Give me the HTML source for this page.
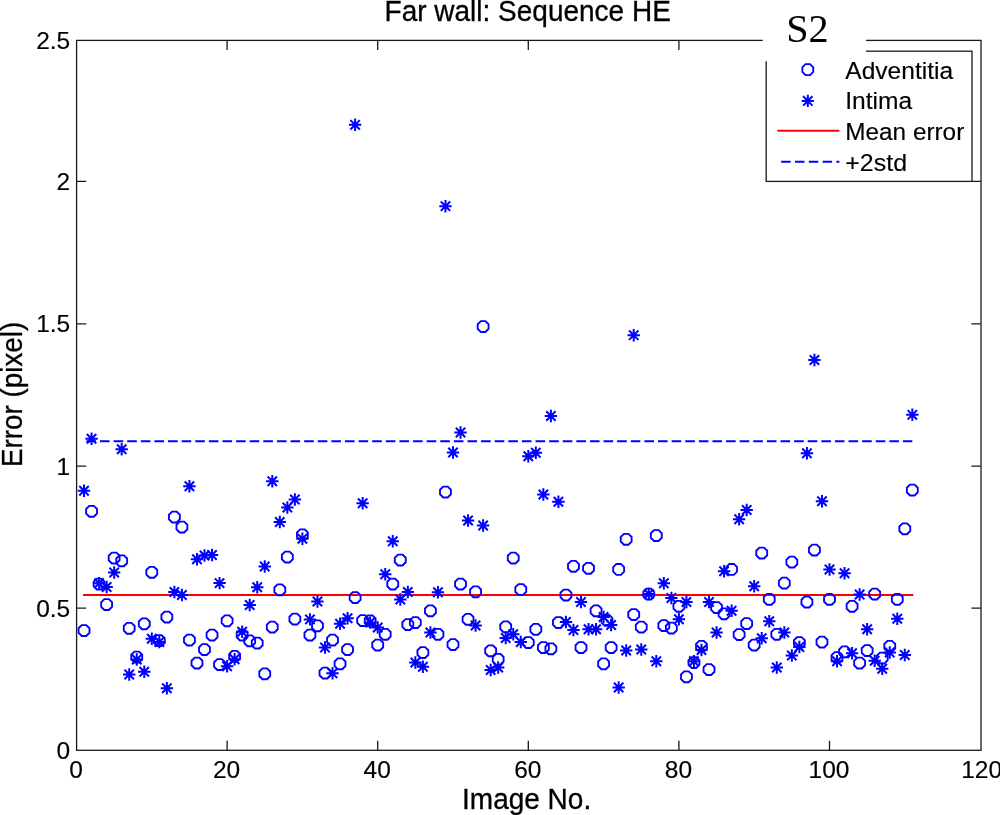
<!DOCTYPE html>
<html><head><meta charset="utf-8"><title>Far wall: Sequence HE</title>
<style>html,body{margin:0;padding:0;background:#fff;overflow:hidden}svg{display:block}</style></head><body>
<svg width="1000" height="815" viewBox="0 0 1000 815">
<rect width="1000" height="815" fill="#fff"/>
<defs>
<polygon id="c" points="5.45,2.26 2.26,5.45 -2.26,5.45 -5.45,2.26 -5.45,-2.26 -2.26,-5.45 2.26,-5.45 5.45,-2.26" fill="none" stroke="#0000ff" stroke-width="1.85"/>
<path id="s" d="M-6.2,0H6.2 M0,-6.2V6.2 M-4.7,-4.7L4.7,4.7 M-4.7,4.7L4.7,-4.7" fill="none" stroke="#0000ff" stroke-width="2"/>
</defs>
<g stroke="#1a1a1a" stroke-width="1.3" fill="none">
<rect x="76.6" y="40.4" width="904.4" height="709.9"/>
<path d="M227.10,750.3v-9.6 M227.10,40.4v9.6"/>
<path d="M377.70,750.3v-9.6 M377.70,40.4v9.6"/>
<path d="M528.30,750.3v-9.6 M528.30,40.4v9.6"/>
<path d="M678.90,750.3v-9.6 M678.90,40.4v9.6"/>
<path d="M829.50,750.3v-9.6 M829.50,40.4v9.6"/>
<path d="M76.6,608.10h9.6 M981,608.10h-9.6"/>
<path d="M76.6,466.10h9.6 M981,466.10h-9.6"/>
<path d="M76.6,323.90h9.6 M981,323.90h-9.6"/>
<path d="M76.6,181.40h9.6 M981,181.40h-9.6"/>
</g>
<g font-family="Liberation Sans, Arial, Helvetica, sans-serif" font-size="24.5" fill="#000" stroke="#000" stroke-width="0.15">
<text transform="translate(76.00,777.6)" text-anchor="middle">0</text>
<text transform="translate(226.60,777.6)" text-anchor="middle">20</text>
<text transform="translate(377.20,777.6)" text-anchor="middle">40</text>
<text transform="translate(527.80,777.6)" text-anchor="middle">60</text>
<text transform="translate(678.40,777.6)" text-anchor="middle">80</text>
<text transform="translate(829.00,777.6)" text-anchor="middle">100</text>
<text transform="translate(981.60,777.6)" text-anchor="middle">120</text>
<text transform="translate(70.2,758.70)" text-anchor="end">0</text>
<text transform="translate(70.2,616.50)" text-anchor="end">0.5</text>
<text transform="translate(70.2,474.50)" text-anchor="end">1</text>
<text transform="translate(70.2,332.30)" text-anchor="end">1.5</text>
<text transform="translate(70.2,189.80)" text-anchor="end">2</text>
<text transform="translate(70.2,48.80)" text-anchor="end">2.5</text>
</g>
<text transform="translate(527.7,20.8) scale(1,1.035)" text-anchor="middle" font-family="Liberation Sans, Arial, Helvetica, sans-serif" font-size="28" fill="#000" stroke="#000" stroke-width="0.3">Far wall: Sequence HE</text>
<text transform="translate(526.6,808.6) scale(1,1.035)" text-anchor="middle" font-family="Liberation Sans, Arial, Helvetica, sans-serif" font-size="28" fill="#000" stroke="#000" stroke-width="0.3">Image No.</text>
<text transform="translate(21.8,394.4) rotate(-90) scale(1,1.06)" text-anchor="middle" font-family="Liberation Sans, Arial, Helvetica, sans-serif" font-size="27.8" fill="#000" stroke="#000" stroke-width="0.3">Error (pixel)</text>
<line x1="84.03" y1="595" x2="912.33" y2="595" stroke="#ff0000" stroke-width="2" stroke-linecap="square"/>
<line x1="84.03" y1="441.2" x2="912.33" y2="441.2" stroke="#0000ff" stroke-width="2" stroke-dasharray="9.6 4.01" stroke-dashoffset="11.25"/>
<g>
<use href="#c" x="84.03" y="630.50"/>
<use href="#c" x="91.56" y="511.25"/>
<use href="#c" x="99.09" y="584.00"/>
<use href="#c" x="106.62" y="604.50"/>
<use href="#c" x="114.15" y="558.00"/>
<use href="#c" x="121.68" y="560.75"/>
<use href="#c" x="129.21" y="628.25"/>
<use href="#c" x="136.74" y="657.00"/>
<use href="#c" x="144.27" y="623.75"/>
<use href="#c" x="151.80" y="572.25"/>
<use href="#c" x="159.33" y="640.50"/>
<use href="#c" x="166.86" y="617.00"/>
<use href="#c" x="174.39" y="517.00"/>
<use href="#c" x="181.92" y="527.00"/>
<use href="#c" x="189.45" y="640.00"/>
<use href="#c" x="196.98" y="663.00"/>
<use href="#c" x="204.51" y="649.50"/>
<use href="#c" x="212.04" y="635.00"/>
<use href="#c" x="219.57" y="664.50"/>
<use href="#c" x="227.10" y="620.75"/>
<use href="#c" x="234.63" y="656.25"/>
<use href="#c" x="242.16" y="635.00"/>
<use href="#c" x="249.69" y="640.75"/>
<use href="#c" x="257.22" y="643.00"/>
<use href="#c" x="264.75" y="673.75"/>
<use href="#c" x="272.28" y="627.00"/>
<use href="#c" x="279.81" y="589.75"/>
<use href="#c" x="287.34" y="557.00"/>
<use href="#c" x="294.87" y="619.00"/>
<use href="#c" x="302.40" y="534.75"/>
<use href="#c" x="309.93" y="635.00"/>
<use href="#c" x="317.46" y="625.75"/>
<use href="#c" x="324.99" y="673.00"/>
<use href="#c" x="332.52" y="640.00"/>
<use href="#c" x="340.05" y="663.75"/>
<use href="#c" x="347.58" y="649.50"/>
<use href="#c" x="355.11" y="597.50"/>
<use href="#c" x="362.64" y="620.50"/>
<use href="#c" x="370.17" y="620.75"/>
<use href="#c" x="377.70" y="645.00"/>
<use href="#c" x="385.23" y="634.25"/>
<use href="#c" x="392.76" y="584.00"/>
<use href="#c" x="400.29" y="560.00"/>
<use href="#c" x="407.82" y="624.50"/>
<use href="#c" x="415.35" y="622.50"/>
<use href="#c" x="422.88" y="652.50"/>
<use href="#c" x="430.41" y="610.75"/>
<use href="#c" x="437.94" y="634.25"/>
<use href="#c" x="445.47" y="492.00"/>
<use href="#c" x="453.00" y="644.50"/>
<use href="#c" x="460.53" y="584.00"/>
<use href="#c" x="468.06" y="619.25"/>
<use href="#c" x="475.59" y="591.75"/>
<use href="#c" x="483.12" y="326.50"/>
<use href="#c" x="490.65" y="650.75"/>
<use href="#c" x="498.18" y="659.25"/>
<use href="#c" x="505.71" y="626.75"/>
<use href="#c" x="513.24" y="558.00"/>
<use href="#c" x="520.77" y="589.50"/>
<use href="#c" x="528.30" y="642.50"/>
<use href="#c" x="535.83" y="629.25"/>
<use href="#c" x="543.36" y="647.50"/>
<use href="#c" x="550.89" y="648.75"/>
<use href="#c" x="558.42" y="622.50"/>
<use href="#c" x="565.95" y="595.00"/>
<use href="#c" x="573.48" y="566.25"/>
<use href="#c" x="581.01" y="647.50"/>
<use href="#c" x="588.54" y="568.25"/>
<use href="#c" x="596.07" y="610.75"/>
<use href="#c" x="603.60" y="663.75"/>
<use href="#c" x="611.13" y="647.50"/>
<use href="#c" x="618.66" y="569.40"/>
<use href="#c" x="626.19" y="539.25"/>
<use href="#c" x="633.72" y="614.50"/>
<use href="#c" x="641.25" y="627.00"/>
<use href="#c" x="648.78" y="594.00"/>
<use href="#c" x="656.31" y="535.50"/>
<use href="#c" x="663.84" y="625.50"/>
<use href="#c" x="671.37" y="628.00"/>
<use href="#c" x="678.90" y="606.25"/>
<use href="#c" x="686.43" y="676.75"/>
<use href="#c" x="693.96" y="662.50"/>
<use href="#c" x="701.49" y="646.25"/>
<use href="#c" x="709.02" y="669.50"/>
<use href="#c" x="716.55" y="607.50"/>
<use href="#c" x="724.08" y="613.75"/>
<use href="#c" x="731.61" y="569.40"/>
<use href="#c" x="739.14" y="634.50"/>
<use href="#c" x="746.67" y="623.50"/>
<use href="#c" x="754.20" y="645.00"/>
<use href="#c" x="761.73" y="553.00"/>
<use href="#c" x="769.26" y="599.25"/>
<use href="#c" x="776.79" y="634.25"/>
<use href="#c" x="784.32" y="583.10"/>
<use href="#c" x="791.85" y="562.00"/>
<use href="#c" x="799.38" y="642.50"/>
<use href="#c" x="806.91" y="602.00"/>
<use href="#c" x="814.44" y="550.00"/>
<use href="#c" x="821.97" y="642.00"/>
<use href="#c" x="829.50" y="599.25"/>
<use href="#c" x="837.03" y="657.50"/>
<use href="#c" x="844.56" y="651.75"/>
<use href="#c" x="852.09" y="606.25"/>
<use href="#c" x="859.62" y="663.00"/>
<use href="#c" x="867.15" y="650.50"/>
<use href="#c" x="874.68" y="594.00"/>
<use href="#c" x="882.21" y="658.00"/>
<use href="#c" x="889.74" y="646.25"/>
<use href="#c" x="897.27" y="599.25"/>
<use href="#c" x="904.80" y="528.75"/>
<use href="#c" x="912.33" y="490.00"/>
<use href="#c" x="607.0" y="620.4"/>
<use href="#s" x="84.03" y="490.75"/>
<use href="#s" x="91.56" y="438.75"/>
<use href="#s" x="99.09" y="583.25"/>
<use href="#s" x="106.62" y="587.00"/>
<use href="#s" x="114.15" y="572.50"/>
<use href="#s" x="121.68" y="449.25"/>
<use href="#s" x="129.21" y="674.50"/>
<use href="#s" x="136.74" y="659.50"/>
<use href="#s" x="144.27" y="671.75"/>
<use href="#s" x="151.80" y="638.75"/>
<use href="#s" x="159.33" y="642.00"/>
<use href="#s" x="166.86" y="688.25"/>
<use href="#s" x="174.39" y="592.00"/>
<use href="#s" x="181.92" y="595.00"/>
<use href="#s" x="189.45" y="486.25"/>
<use href="#s" x="196.98" y="559.25"/>
<use href="#s" x="204.51" y="555.50"/>
<use href="#s" x="212.04" y="555.00"/>
<use href="#s" x="219.57" y="583.10"/>
<use href="#s" x="227.10" y="666.25"/>
<use href="#s" x="234.63" y="659.25"/>
<use href="#s" x="242.16" y="631.75"/>
<use href="#s" x="249.69" y="605.00"/>
<use href="#s" x="257.22" y="587.25"/>
<use href="#s" x="264.75" y="566.50"/>
<use href="#s" x="272.28" y="481.25"/>
<use href="#s" x="279.81" y="522.00"/>
<use href="#s" x="287.34" y="507.50"/>
<use href="#s" x="294.87" y="499.50"/>
<use href="#s" x="302.40" y="538.75"/>
<use href="#s" x="309.93" y="619.40"/>
<use href="#s" x="317.46" y="601.50"/>
<use href="#s" x="324.99" y="647.50"/>
<use href="#s" x="332.52" y="673.25"/>
<use href="#s" x="340.05" y="623.75"/>
<use href="#s" x="347.58" y="618.25"/>
<use href="#s" x="355.11" y="124.80"/>
<use href="#s" x="362.64" y="503.25"/>
<use href="#s" x="370.17" y="622.50"/>
<use href="#s" x="377.70" y="627.50"/>
<use href="#s" x="385.23" y="574.25"/>
<use href="#s" x="392.76" y="541.25"/>
<use href="#s" x="400.29" y="599.50"/>
<use href="#s" x="407.82" y="592.00"/>
<use href="#s" x="415.35" y="662.50"/>
<use href="#s" x="422.88" y="666.75"/>
<use href="#s" x="430.41" y="632.50"/>
<use href="#s" x="437.94" y="592.25"/>
<use href="#s" x="445.47" y="206.20"/>
<use href="#s" x="453.00" y="452.50"/>
<use href="#s" x="460.53" y="432.50"/>
<use href="#s" x="468.06" y="520.50"/>
<use href="#s" x="475.59" y="625.50"/>
<use href="#s" x="483.12" y="525.50"/>
<use href="#s" x="490.65" y="670.00"/>
<use href="#s" x="498.18" y="667.50"/>
<use href="#s" x="505.71" y="638.00"/>
<use href="#s" x="513.24" y="634.25"/>
<use href="#s" x="520.77" y="642.00"/>
<use href="#s" x="528.30" y="456.25"/>
<use href="#s" x="535.83" y="452.75"/>
<use href="#s" x="543.36" y="494.50"/>
<use href="#s" x="550.89" y="416.00"/>
<use href="#s" x="558.42" y="501.75"/>
<use href="#s" x="565.95" y="622.00"/>
<use href="#s" x="573.48" y="630.00"/>
<use href="#s" x="581.01" y="602.00"/>
<use href="#s" x="588.54" y="629.25"/>
<use href="#s" x="596.07" y="629.25"/>
<use href="#s" x="603.60" y="617.00"/>
<use href="#s" x="611.13" y="625.00"/>
<use href="#s" x="618.66" y="687.50"/>
<use href="#s" x="626.19" y="650.50"/>
<use href="#s" x="633.72" y="335.20"/>
<use href="#s" x="641.25" y="649.50"/>
<use href="#s" x="648.78" y="594.00"/>
<use href="#s" x="656.31" y="661.25"/>
<use href="#s" x="663.84" y="583.25"/>
<use href="#s" x="671.37" y="598.00"/>
<use href="#s" x="678.90" y="619.25"/>
<use href="#s" x="686.43" y="602.00"/>
<use href="#s" x="693.96" y="661.25"/>
<use href="#s" x="701.49" y="650.00"/>
<use href="#s" x="709.02" y="602.00"/>
<use href="#s" x="716.55" y="632.50"/>
<use href="#s" x="724.08" y="571.25"/>
<use href="#s" x="731.61" y="610.75"/>
<use href="#s" x="739.14" y="519.25"/>
<use href="#s" x="746.67" y="510.00"/>
<use href="#s" x="754.20" y="586.25"/>
<use href="#s" x="761.73" y="638.25"/>
<use href="#s" x="769.26" y="621.25"/>
<use href="#s" x="776.79" y="667.50"/>
<use href="#s" x="784.32" y="632.50"/>
<use href="#s" x="791.85" y="655.50"/>
<use href="#s" x="799.38" y="647.00"/>
<use href="#s" x="806.91" y="453.25"/>
<use href="#s" x="814.44" y="360.00"/>
<use href="#s" x="821.97" y="501.25"/>
<use href="#s" x="829.50" y="569.50"/>
<use href="#s" x="837.03" y="661.25"/>
<use href="#s" x="844.56" y="573.25"/>
<use href="#s" x="852.09" y="653.25"/>
<use href="#s" x="859.62" y="594.50"/>
<use href="#s" x="867.15" y="629.25"/>
<use href="#s" x="874.68" y="660.75"/>
<use href="#s" x="882.21" y="668.75"/>
<use href="#s" x="889.74" y="652.50"/>
<use href="#s" x="897.27" y="618.75"/>
<use href="#s" x="904.80" y="655.00"/>
<use href="#s" x="912.33" y="414.80"/>
</g>
<rect x="766.2" y="51.2" width="205.8" height="130.2" fill="#fff" stroke="#1a1a1a" stroke-width="1.3"/>
<use href="#c" x="807.8" y="69.6"/>
<use href="#s" x="807.8" y="100.9"/>
<line x1="777.3" y1="130.8" x2="839.4" y2="130.8" stroke="#ff0000" stroke-width="2"/>
<line x1="781.2" y1="161.8" x2="839.4" y2="161.8" stroke="#0000ff" stroke-width="2" stroke-dasharray="9.5 4.3"/>
<text transform="translate(845.3,78.8) scale(1.003,1)" text-anchor="start" font-family="Liberation Sans, Arial, Helvetica, sans-serif" font-size="24.5" fill="#000" stroke="#000" stroke-width="0.15">Adventitia</text>
<text transform="translate(845.3,109.2) scale(1.003,1)" text-anchor="start" font-family="Liberation Sans, Arial, Helvetica, sans-serif" font-size="24.5" fill="#000" stroke="#000" stroke-width="0.15">Intima</text>
<text transform="translate(845.3,140) scale(0.993,1)" text-anchor="start" font-family="Liberation Sans, Arial, Helvetica, sans-serif" font-size="24.5" fill="#000" stroke="#000" stroke-width="0.15">Mean error</text>
<text transform="translate(845.3,171.2) scale(1.018,1)" text-anchor="start" font-family="Liberation Sans, Arial, Helvetica, sans-serif" font-size="24.5" fill="#000" stroke="#000" stroke-width="0.15">+2std</text>
<rect x="762.8" y="0" width="103.2" height="61.2" fill="#fff"/>
<text x="786.2" y="41.5" font-family="Liberation Serif, Times New Roman, serif" font-size="40.2" fill="#000">S2</text>
</svg></body></html>
